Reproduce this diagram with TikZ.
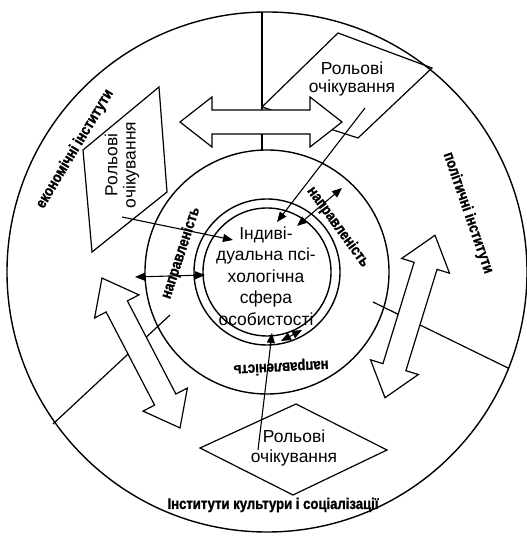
\documentclass[tikz,border=0pt]{standalone}
\usepackage{fontspec}
\setmainfont{Liberation Sans}
\newfontfamily\labfont[FakeStretch=0.85,FakeBold=1.2]{Liberation Sans Bold}
\usetikzlibrary{arrows.meta}
\begin{document}
\begin{tikzpicture}[x=1bp,y=1bp]

\tikzset{ring/.style={line width=1.4bp},}
\tikzset{part/.style={line width=1.2bp},}
\tikzset{role/.style={align=center,inner sep=0pt,font=\fontsize{17.5}{18.5}\selectfont},}
\tikzset{core/.style={align=center,inner sep=0pt,font=\fontsize{17.5}{21.5}\selectfont},}
\tikzset{inst/.style={inner sep=0pt,font=\labfont\fontsize{15.5}{18}\selectfont},}
\tikzset{thin/.style={line width=1.1bp,-{Triangle[length=10bp,width=8bp]}},}
\tikzset{both/.style={line width=1.1bp,{Triangle[length=10bp,width=8bp]}-{Triangle[length=10bp,width=8bp]}},}
\tikzset{pics/bigarrow/.style={code={
  \draw[line width=1.2bp,fill=white] (-#1,0) -- (-#1+32,25) -- (-#1+32,12) -- (#1-32,12) -- (#1-32,25) -- (#1,0)
    -- (#1-32,-25) -- (#1-32,-12) -- (-#1+32,-12) -- (-#1+32,-25) -- cycle;}}}

\useasboundingbox (0,0) rectangle (527,540);

%KOLA
\coordinate (c) at (267,268);
\draw[ring] (c) circle (260bp);
\draw[ring] (c) circle (122bp);
\draw[ring] (c) circle (73bp);
\draw[ring] (c) circle (64bp);

%SEKTORY
\draw[part] (262,390) -- (262,528);
\draw[part] (170,225) -- (53,116);
\draw[part] (373,238) -- (508,172);

%ROLOVI
\draw[part] (262,433) -- (338,507) -- (432,472) -- (358,402) -- cycle;
\draw[part] (83,390) -- (159,453) -- (167,348) -- (92,288) -- cycle;
\draw[part] (200,92) -- (296,136) -- (387,90) -- (293,45) -- cycle;

%STRILKY
\pic at (261,418) {bigarrow=81};
\pic[rotate=-62.5] at (141,187) {bigarrow=84.5};
\pic[rotate=72.9] at (410,223.5) {bigarrow=85};

\node[role] (roleR) at (352,461) {Рольові\\очікування};
\node[role,rotate=90] (roleL) at (122,375) {Рольові\\очікування};
\node[role,font=\fontsize{17.5}{20}\selectfont] (roleB) at (294,92) {Рольові\\очікування};
\node[core] (ind) at (266,264) {Індиві-\\дуальна псі-\\хологічна\\сфера\\особистості};

\node[inst,rotate=59] (econ) at (75,391) {економічні інститути};
\node[inst,rotate=-71] (polit) at (468,327) {політичні інститути};
\node[inst] (cult) at (273,35) {Інститути культури і соціалізації};
\node[inst,rotate=72] (dirL) at (181,287) {направленість};
\node[inst,rotate=-54] (dirR) at (338,313) {направленість};
\node[inst,rotate=183] (dirB) at (281,173) {направленість};

\coordinate (lTail) at (122,323);
\coordinate (lHead) at (233,300);
\coordinate (rTail) at (365,432);
\coordinate (rHead) at (277,318);
\coordinate (bTail) at (258,90);
\coordinate (bHead) at (272,207);
\draw[thin] (lTail) -- (lHead);
\draw[thin] (rTail) -- (rHead);
\draw[thin] (bTail) -- (bHead);

\coordinate (dl1) at (135,263);
\coordinate (dl2) at (205,265);
\coordinate (dr1) at (297,314);
\coordinate (dr2) at (342,352);
\coordinate (db1) at (281,199);
\coordinate (db2) at (302,210);
\draw[both] (dl1) -- (dl2);
\draw[both] (dr1) -- (dr2);
\draw[both] (db1) -- (db2);

\end{tikzpicture}
\end{document}
